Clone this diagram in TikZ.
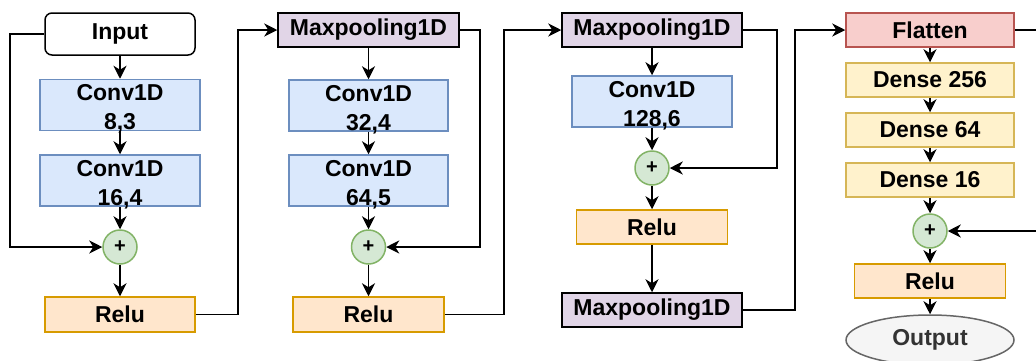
\documentclass[tikz,border=0pt]{standalone}
\usepackage{fontspec}
\setmainfont{Liberation Sans}
\usetikzlibrary{arrows.meta,shapes.geometric}
\definecolor{cblue}{HTML}{DAE8FC}\definecolor{cblueD}{HTML}{6C8EBF}
\definecolor{corg}{HTML}{FFE6CC}\definecolor{corgD}{HTML}{D79B00}
\definecolor{cgrn}{HTML}{D5E8D4}\definecolor{cgrnD}{HTML}{82B366}
\definecolor{cpur}{HTML}{E1D5E7}
\definecolor{cyel}{HTML}{FFF2CC}\definecolor{cyelD}{HTML}{D6B656}
\definecolor{cred}{HTML}{F8CECC}\definecolor{credD}{HTML}{B85450}
\definecolor{cgry}{HTML}{F5F5F5}\definecolor{cgryD}{HTML}{666666}\definecolor{cgryT}{HTML}{333333}
\newcommand{\convtext}[2]{\raisebox{-10.5pt}[0pt][0pt]{\begin{tabular}{@{}c@{}}#1\\#2\end{tabular}}}
\tikzset{
  base/.style={draw, line width=1.5pt, inner sep=0pt, align=center, font=\fontsize{23}{29}\selectfont\bfseries},
  convbox/.style={base, fill=cblue, draw=cblueD},
  relubox/.style={base, fill=corg, draw=corgD},
  poolbox/.style={base, fill=cpur, draw=black},
  densebox/.style={base, fill=cyel, draw=cyelD},
  flatbox/.style={base, fill=cred, draw=credD},
  inbox/.style={base, fill=white, draw=black, rounded corners=7pt},
  outbox/.style={base, ellipse, fill=cgry, draw=cgryD, text=cgryT},
  addnode/.style={base, circle, fill=cgrn, draw=cgrnD, minimum size=34pt, font=\fontsize{20}{24}\selectfont\bfseries},
  arr/.style={-{Stealth[length=13pt,width=13pt,inset=4pt]}, line width=1.8pt},
  ln/.style={line width=1.8pt}
}
\begin{document}
\begin{tikzpicture}[x=1pt,y=-1pt]
\useasboundingbox (0,0) rectangle (1036,360);
% column 1
\node[inbox, minimum width=150pt, minimum height=42pt] (in) at (120,34) {Input};
\node[convbox, minimum width=160pt, minimum height=51pt] (c1) at (120,105) {\convtext{Conv1D}{8,3}};
\node[convbox, minimum width=160pt, minimum height=51pt] (c2) at (120,180.5) {\convtext{Conv1D}{16,4}};
\node[addnode] (p1) at (120,247) {+};
\node[relubox, minimum width=150pt, minimum height=35pt] (r1) at (120,314.5) {Relu};
% column 2
\node[poolbox, minimum width=181pt, minimum height=34pt] (m1) at (368.5,30) {Maxpooling1D};
\node[convbox, minimum width=159pt, minimum height=51pt] (c3) at (368.5,105.5) {\convtext{Conv1D}{32,4}};
\node[convbox, minimum width=159pt, minimum height=51pt] (c4) at (368.5,180.5) {\convtext{Conv1D}{64,5}};
\node[addnode] (p2) at (368.5,247) {+};
\node[relubox, minimum width=151pt, minimum height=35pt] (r2) at (368.5,314.5) {Relu};
% column 3
\node[poolbox, minimum width=180pt, minimum height=34pt] (m2) at (652,30) {Maxpooling1D};
\node[convbox, minimum width=160pt, minimum height=51pt] (c5) at (652,101.5) {\convtext{Conv1D}{128,6}};
\node[addnode] (p3) at (652,168) {+};
\node[relubox, minimum width=151pt, minimum height=34pt] (r3) at (652,227) {Relu};
\node[poolbox, minimum width=180pt, minimum height=34pt] (m3) at (652,310) {Maxpooling1D};
% column 4
\node[flatbox, minimum width=168pt, minimum height=34pt] (fl) at (930,30) {Flatten};
\node[densebox, minimum width=168pt, minimum height=34pt] (d1) at (930,80) {Dense 256};
\node[densebox, minimum width=168pt, minimum height=34pt] (d2) at (930,130) {Dense 64};
\node[densebox, minimum width=168pt, minimum height=34pt] (d3) at (930,180) {Dense 16};
\node[addnode] (p4) at (930,231) {+};
\node[relubox, minimum width=151pt, minimum height=34pt] (r4) at (930,281) {Relu};
\node[outbox, minimum width=168pt, minimum height=50pt] (out) at (930,340) {Output};
\coordinate (fe) at (1040,30);
\coordinate (re) at (1040,231);
% connectors column 1
\draw[arr] (in) -- (c1);
\draw[arr] (c1) -- (c2);
\draw[arr] (c2) -- (p1);
\draw[arr] (p1) -- (r1);
\draw[arr] (in.west) -- ++(-34,0) |- (p1.west);
\draw[arr] (r1.east) -- ++(42,0) |- (m1.west);
% column 2
\draw[arr] (m1) -- (c3);
\draw[arr] (c3) -- (c4);
\draw[arr] (c4) -- (p2);
\draw[arr] (p2) -- (r2);
\draw[arr] (m1.east) -- ++(20,0) |- (p2.east);
\draw[arr] (r2.east) -- ++(59,0) |- (m2.west);
% column 3
\draw[arr] (m2) -- (c5);
\draw[arr] (c5) -- (p3);
\draw[arr] (p3) -- (r3);
\draw[arr] (r3) -- (m3);
\draw[arr] (m2.east) -- ++(34,0) |- (p3.east);
\draw[arr] (m3.east) -- ++(52,0) |- (fl.west);
% column 4
\draw[arr] (fl) -- (d1);
\draw[arr] (d1) -- (d2);
\draw[arr] (d2) -- (d3);
\draw[arr] (d3) -- (p4);
\draw[arr] (p4) -- (r4);
\draw[arr] (r4) -- (out);
\draw[ln] (fl.east) -- (fe);
\draw[arr] (re) -- (p4.east);
\end{tikzpicture}
\end{document}
